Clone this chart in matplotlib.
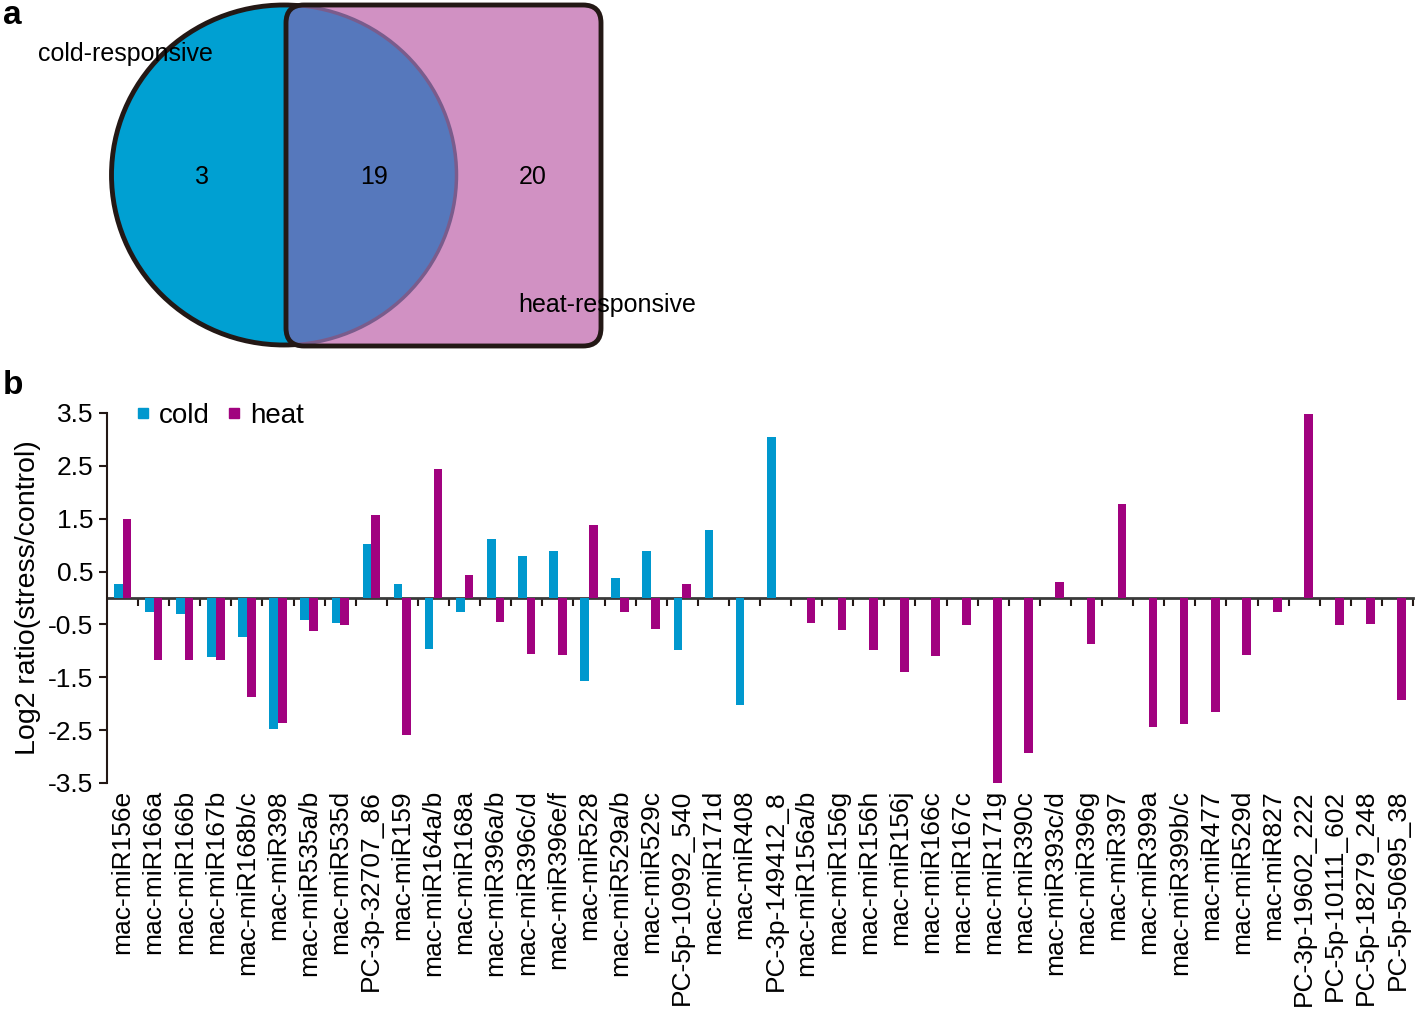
import numpy as np
import matplotlib
matplotlib.use("Agg")
import matplotlib.pyplot as plt
from matplotlib.patches import Ellipse, FancyBboxPatch
from matplotlib.lines import Line2D

plt.rcParams['font.family'] = ['Liberation Sans', 'DejaVu Sans']

# ---- data ----
venn_counts = [3, 19, 20]   # cold only, both, heat only
venn_names = ["cold-responsive", "heat-responsive"]

mirnas = ["mac-miR156e", "mac-miR166a", "mac-miR166b", "mac-miR167b", "mac-miR168b/c",
          "mac-miR398", "mac-miR535a/b", "mac-miR535d", "PC-3p-32707_86", "mac-miR159",
          "mac-miR164a/b", "mac-miR168a", "mac-miR396a/b", "mac-miR396c/d", "mac-miR396e/f",
          "mac-miR528", "mac-miR529a/b", "mac-miR529c", "PC-5p-10992_540", "mac-miR171d",
          "mac-miR408", "PC-3p-149412_8", "mac-miR156a/b", "mac-miR156g", "mac-miR156h",
          "mac-miR156j", "mac-miR166c", "mac-miR167c", "mac-miR171g", "mac-miR390c",
          "mac-miR393c/d", "mac-miR396g", "mac-miR397", "mac-miR399a", "mac-miR399b/c",
          "mac-miR477", "mac-miR529d", "mac-miR827", "PC-3p-19602_222", "PC-5p-10111_602",
          "PC-5p-18279_248", "PC-5p-50695_38"]

cold = [0.26, -0.27, -0.30, -1.12, -0.74, -2.48, -0.42, -0.47, 1.03, 0.27,
        -0.96, -0.27, 1.11, 0.80, 0.88, -1.57, 0.38, 0.89, -0.98, 1.29,
        -2.02, 3.05, 0, 0, 0, 0, 0, 0, 0, 0,
        0, 0, 0, 0, 0, 0, 0, 0, 0, 0, 0, 0]
heat = [1.49, -1.17, -1.18, -1.18, -1.88, -2.37, -0.63, -0.52, 1.57, -2.60,
        2.45, 0.44, -0.45, -1.05, -1.07, 1.39, -0.27, -0.59, 0.26, 0,
        0, 0, -0.48, -0.61, -0.99, -1.40, -1.10, -0.52, -3.51, -2.93,
        0.30, -0.87, 1.78, -2.44, -2.38, -2.16, -1.07, -0.26, 3.48, -0.51,
        -0.50, -1.93]

c_cold = "#0098CE"
c_heat = "#A1027F"

fig = plt.figure(figsize=(14.18, 10.14), dpi=100)

# ---- panel a: venn (axes in pixel units) ----
axa = fig.add_axes([0, 1 - 360 / 1014, 1, 360 / 1014])
axa.set_xlim(0, 1418)
axa.set_ylim(360, 0)
axa.axis("off")

circ = Ellipse((284, 175), 345, 340, facecolor="#00A0D2", edgecolor="#231815", lw=3.5, zorder=1)
axa.add_patch(circ)
rect = FancyBboxPatch((286, 5), 315, 341, boxstyle="round,pad=0,rounding_size=18",
                      facecolor="#D191C3", edgecolor="none", zorder=2)
axa.add_patch(rect)
over = Ellipse((284, 175), 345, 340, facecolor="#5678BC", edgecolor="#7A5C8C", lw=2.5, zorder=3)
axa.add_patch(over)
over.set_clip_path(rect)
rect_edge = FancyBboxPatch((286, 5), 315, 341, boxstyle="round,pad=0,rounding_size=18",
                           facecolor="none", edgecolor="#231815", lw=3.5, zorder=4)
axa.add_patch(rect_edge)

axa.text(202, 177, str(venn_counts[0]), fontsize=18, ha="center", va="center", zorder=5)
axa.text(374, 177, str(venn_counts[1]), fontsize=18, ha="center", va="center", zorder=5)
axa.text(533, 177, str(venn_counts[2]), fontsize=18, ha="center", va="center", zorder=5)
axa.text(38, 54, venn_names[0], fontsize=18, ha="left", va="center", zorder=5)
axa.text(518, 305, venn_names[1], fontsize=18, ha="left", va="center", zorder=5)

fig.text(3 / 1418, 1 - 16 / 1014, "a", fontsize=24, fontweight="bold", va="center", ha="left")
fig.text(3 / 1418, 1 - 385 / 1014, "b", fontsize=24, fontweight="bold", va="center", ha="left")

# ---- panel b: bars ----
ax = fig.add_axes([107 / 1418, 1 - 783 / 1014, (1413 - 107) / 1418, (783 - 413) / 1014])
x = np.arange(len(mirnas))
w = 0.28
ax.bar(x - w / 2, cold, w, color=c_cold, zorder=2)
ax.bar(x + w / 2, heat, w, color=c_heat, zorder=2)

ax.set_xlim(-0.5, len(mirnas) - 0.5)
ax.set_ylim(-3.5, 3.5)
ax.set_yticks(np.arange(-3.5, 3.6, 1.0))
ax.set_yticklabels(["%.1f" % v for v in np.arange(-3.5, 3.6, 1.0)])
ax.tick_params(axis="y", direction="out", length=6, width=1.5, labelsize=19, pad=4, color="#231815")
ax.set_xticks(x)
ax.set_xticklabels(mirnas, rotation=90, fontsize=19)
ax.tick_params(axis="x", length=0, pad=5)
for s in ["top", "right", "bottom"]:
    ax.spines[s].set_visible(False)
ax.spines["left"].set_linewidth(1.5)
ax.spines["left"].set_color("#231815")
ax.set_ylabel("Log2 ratio(stress/control)", fontsize=20.5, labelpad=5)

# zero line with group separators
zx = ax.secondary_xaxis(0.5)
zx.set_xticks(np.arange(len(mirnas)) + 0.5)
zx.set_xticklabels([])
zx.tick_params(direction="in", length=6, width=1.5, color="#231815")
for s in zx.spines.values():
    s.set_linewidth(2)
    s.set_color("#3a3a3a")

handles = [Line2D([], [], ls="none", marker="s", ms=7, color=c_cold, label="cold"),
           Line2D([], [], ls="none", marker="s", ms=7, color=c_heat, label="heat")]
ax.legend(handles=handles, loc="upper left", bbox_to_anchor=(0.007, 1.08), ncol=2, frameon=False,
          fontsize=20, handlelength=0.5, handletextpad=0.35, columnspacing=0.6, borderaxespad=0.3)

fig.savefig("out.png", dpi=100)
